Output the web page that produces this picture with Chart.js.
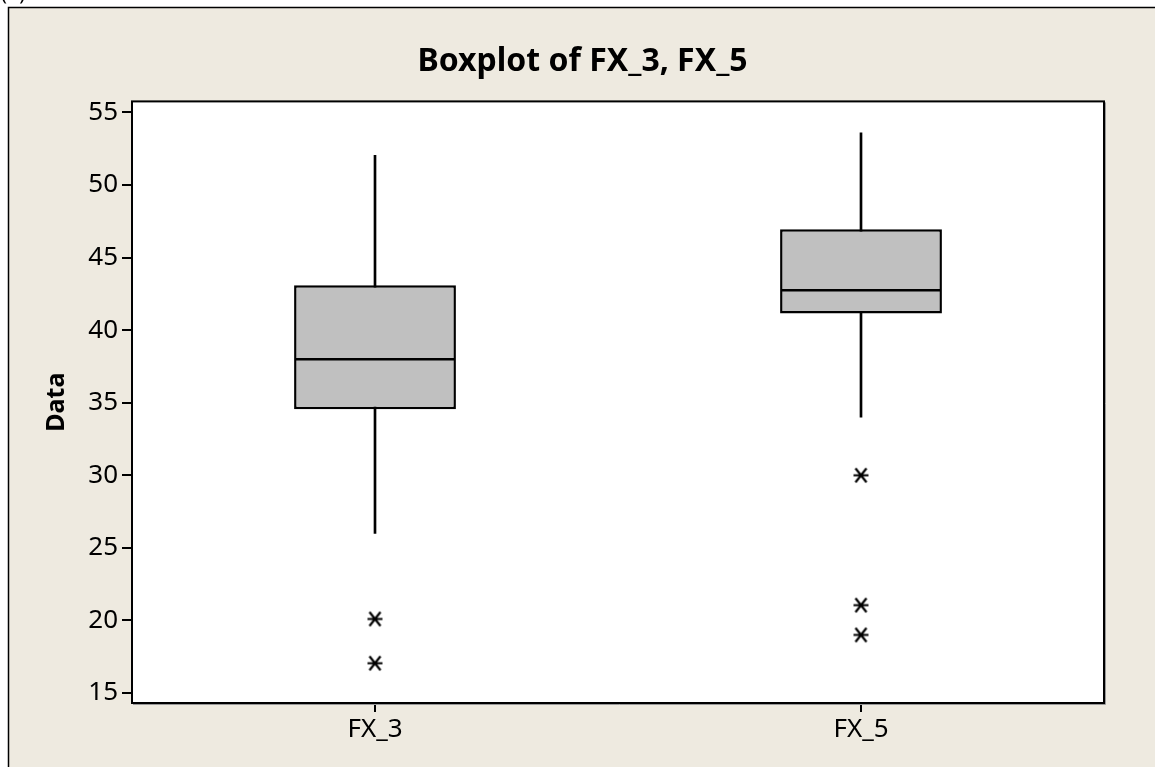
<!DOCTYPE html>
<html>
<head>
<meta charset="utf-8">
<script src="https://cdn.jsdelivr.net/npm/chart.js@4.4.1/dist/chart.umd.min.js"></script>
<style>
  html, body { margin: 0; padding: 0; background: #fff; }
  canvas { display: block; }
</style>
</head>
<body>
<canvas id="chart" width="1155" height="767"></canvas>
<script>
/* global Chart */

// values
const categories = ["FX_3", "FX_5"];
const whiskerLow = [26.0, 34.0];
const q1 = [34.55, 41.15];
const median = [38.0, 42.75];
const q3 = [43.1, 46.95];
const whiskerHigh = [52.05, 53.6];
const outlierCat = ["FX_3", "FX_3", "FX_5", "FX_5", "FX_5"];
const outlierVal = [20.1, 17.05, 30.0, 21.05, 19.0];
const yTicks = [15, 20, 25, 30, 35, 40, 45, 50, 55];

const BEIGE = "#EEEAE0";

Chart.defaults.font.family = "'Noto Sans', 'DejaVu Sans', sans-serif";
Chart.defaults.color = "#000";

// minitab style asterisk for the outliers
function makeStar() {
  const c = document.createElement("canvas");
  c.width = 19;
  c.height = 19;
  const g = c.getContext("2d");
  g.strokeStyle = "#000";
  g.lineWidth = 2.2;
  g.beginPath();
  g.moveTo(2, 9.5); g.lineTo(17, 9.5);
  g.moveTo(4, 2.5); g.lineTo(15, 16.5);
  g.moveTo(15, 2.5); g.lineTo(4, 16.5);
  g.stroke();
  return c;
}

const framePlugin = {
  id: "frame",
  beforeDraw(chart) {
    const { ctx, width, height, chartArea: a } = chart;
    ctx.save();
    ctx.fillStyle = "#fff";
    ctx.fillRect(0, 0, width, height);
    ctx.fillStyle = BEIGE;
    ctx.fillRect(8, 7, width - 8, height - 7);
    ctx.strokeStyle = "#000";
    ctx.lineWidth = 1.5;
    ctx.beginPath();
    ctx.moveTo(8.5, height);
    ctx.lineTo(8.5, 7.5);
    ctx.lineTo(width, 7.5);
    ctx.stroke();
    ctx.fillStyle = "#fff";
    ctx.fillRect(a.left, a.top, a.right - a.left, a.bottom - a.top);
    // caption of the figure, cut off at the top edge
    ctx.fillStyle = "#000";
    ctx.font = "20px 'Noto Sans'";
    ctx.textBaseline = "alphabetic";
    ctx.fillText("(b)", 1, 0);
    ctx.restore();
  },
  afterDraw(chart) {
    const { ctx, chartArea: a } = chart;
    ctx.save();
    ctx.strokeStyle = "#999";
    ctx.lineWidth = 1;
    ctx.beginPath();
    ctx.moveTo(a.right + 1.5, a.top + 1);
    ctx.lineTo(a.right + 1.5, a.bottom + 1.5);
    ctx.lineTo(a.left + 1, a.bottom + 1.5);
    ctx.stroke();
    ctx.strokeStyle = "#000";
    ctx.lineWidth = 2;
    ctx.strokeRect(a.left, a.top, a.right - a.left, a.bottom - a.top);
    ctx.restore();
  },
};

const ctx = document.getElementById("chart");
const chart = new Chart(ctx, {
  data: {
    labels: categories,
    datasets: [
      {
        type: "bar",
        label: "whiskers",
        data: categories.map((c, i) => [whiskerLow[i], whiskerHigh[i]]),
        backgroundColor: "#000",
        barThickness: 2,
        grouped: false,
        order: 4,
      },
      {
        type: "bar",
        label: "box",
        data: categories.map((c, i) => [q1[i], q3[i]]),
        backgroundColor: "#C0C0C0",
        borderColor: "#000",
        borderWidth: 2.5,
        borderSkipped: false,
        barPercentage: 0.333,
        categoryPercentage: 1,
        grouped: false,
        order: 3,
      },
      {
        type: "line",
        label: "median",
        data: median,
        showLine: false,
        pointStyle: "line",
        pointRadius: 80,
        pointBorderWidth: 2.5,
        pointBorderColor: "#000",
        borderColor: "#000",
        order: 2,
      },
      {
        type: "line",
        label: "outliers",
        data: outlierCat.map((c, i) => ({ x: c, y: outlierVal[i] })),
        showLine: false,
        pointStyle: makeStar(),
        pointRadius: 9,
        order: 1,
      },
    ],
  },
  options: {
    responsive: false,
    animation: false,
    events: [],
    layout: { autoPadding: false, padding: { left: 10, right: 0, top: 0, bottom: 0 } },
    plugins: {
      legend: { display: false },
      tooltip: { enabled: false },
      title: {
        display: true,
        text: "Boxplot of FX_3, FX_5",
        color: "#000",
        font: { size: 32, weight: "bold" },
        padding: { top: 43, bottom: 20 },
      },
    },
    scales: {
      x: {
        offset: true,
        grid: {
          drawOnChartArea: false,
          tickLength: 9,
          color: "#000",
          lineWidth: 2,
          offset: false,
        },
        border: { display: false },
        ticks: { color: "#000", font: { size: 26 }, padding: 2 },
        afterFit(scale) { scale.height = 64; },
      },
      y: {
        min: 14.31,
        max: 55.76,
        afterBuildTicks(scale) {
          scale.ticks = yTicks.map((v) => ({ value: v }));
        },
        grid: {
          drawOnChartArea: false,
          tickLength: 10,
          color: "#000",
          lineWidth: 2,
        },
        border: { display: false },
        ticks: { color: "#000", font: { size: 26 }, padding: 4 },
        title: {
          display: true,
          text: "Data",
          color: "#000",
          font: { size: 25, weight: "bold" },
          padding: { top: 32, bottom: 0 },
        },
        afterFit(scale) { scale.width = 122; },
      },
      // empty axis on the right, only keeps the plot clear of the edge
      yRight: {
        position: "right",
        grid: { display: false },
        border: { display: false },
        ticks: { display: false },
        afterFit(scale) { scale.width = 51; },
      },
    },
  },
  plugins: [framePlugin],
});
</script>
</body>
</html>
